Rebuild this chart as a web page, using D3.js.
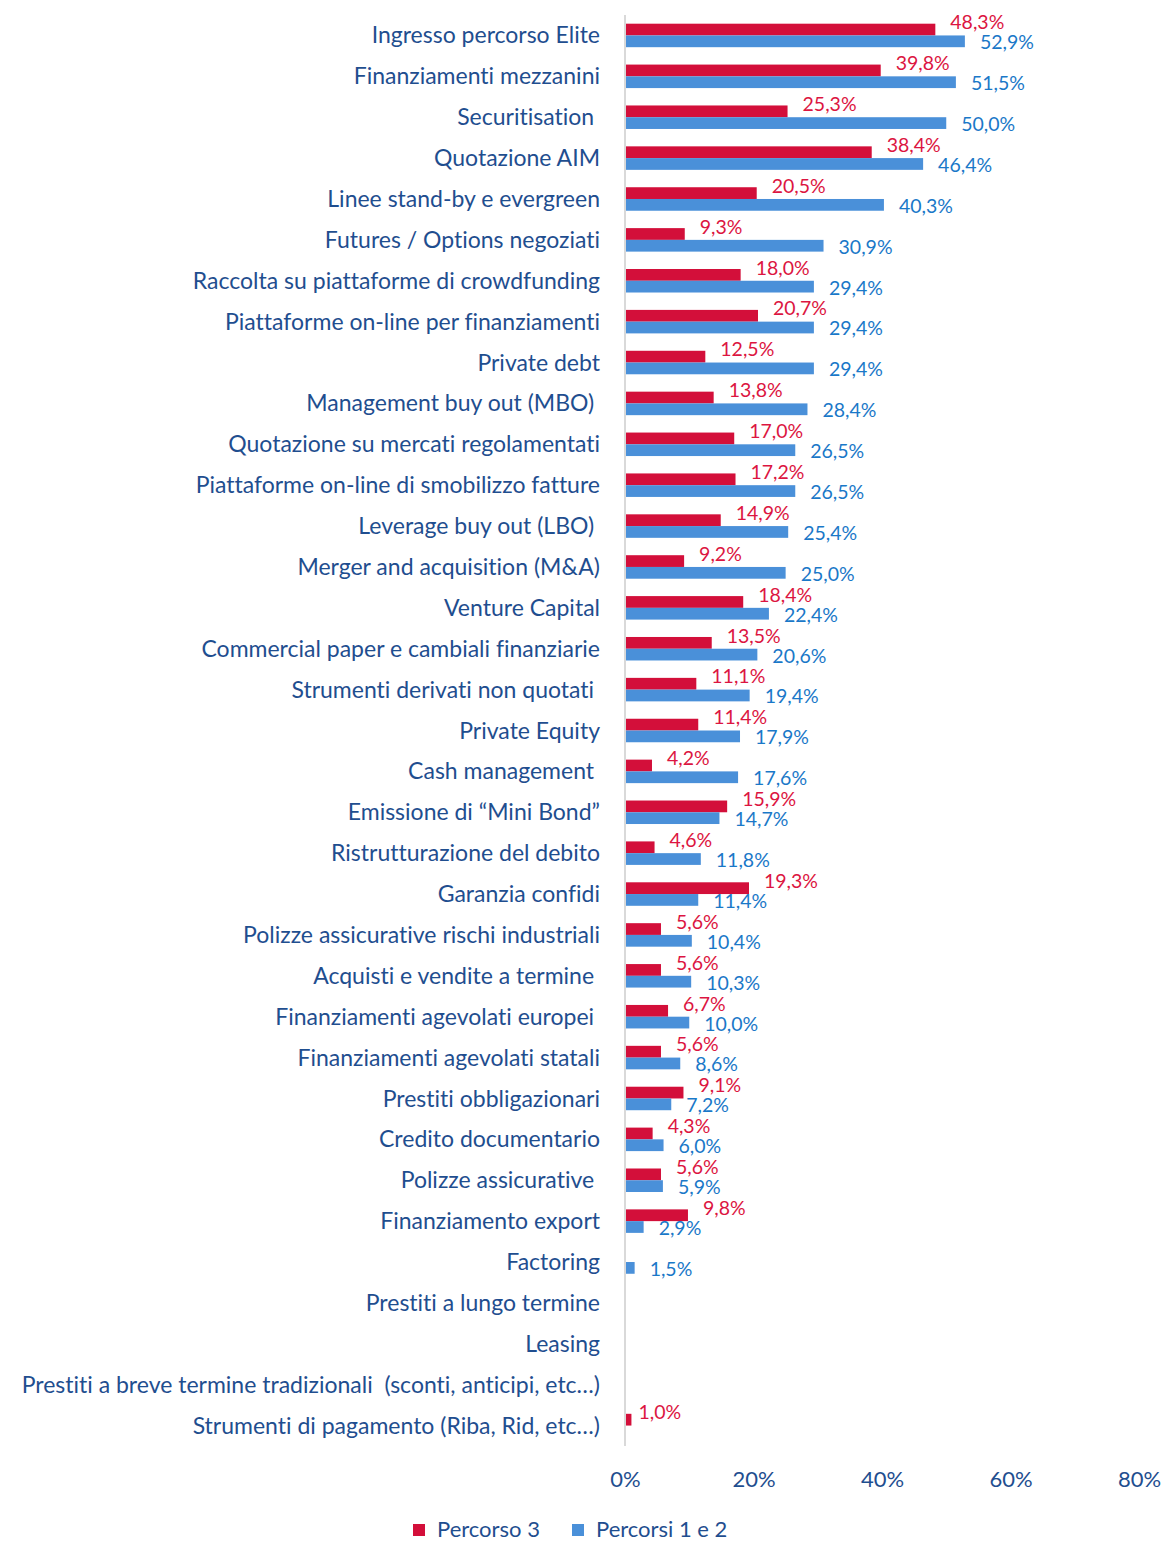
<!DOCTYPE html>
<html>
<head>
<meta charset="utf-8">
<script src="https://cdn.jsdelivr.net/npm/d3@7/dist/d3.min.js"></script>
<style>
  html, body { margin: 0; padding: 0; background: #fff; }
  svg text { font-family: Lato, "Open Sans", sans-serif; font-variant-ligatures: none; }
</style>
</head>
<body>
<script>
// Categories, top to bottom (trailing spaces kept as in the source labels)
const categories = [
  "Ingresso percorso Elite",
  "Finanziamenti mezzanini",
  "Securitisation ",
  "Quotazione AIM",
  "Linee stand-by e evergreen",
  "Futures / Options negoziati",
  "Raccolta su piattaforme di crowdfunding",
  "Piattaforme on-line per finanziamenti",
  "Private debt",
  "Management buy out (MBO) ",
  "Quotazione su mercati regolamentati",
  "Piattaforme on-line di smobilizzo fatture",
  "Leverage buy out (LBO) ",
  "Merger and acquisition (M&A)",
  "Venture Capital",
  "Commercial paper e cambiali finanziarie",
  "Strumenti derivati non quotati ",
  "Private Equity",
  "Cash management ",
  "Emissione di \u201cMini Bond\u201d",
  "Ristrutturazione del debito",
  "Garanzia confidi",
  "Polizze assicurative rischi industriali",
  "Acquisti e vendite a termine ",
  "Finanziamenti agevolati europei ",
  "Finanziamenti agevolati statali",
  "Prestiti obbligazionari",
  "Credito documentario",
  "Polizze assicurative ",
  "Finanziamento export",
  "Factoring",
  "Prestiti a lungo termine",
  "Leasing",
  "Prestiti a breve termine tradizionali  (sconti, anticipi, etc\u2026)",
  "Strumenti di pagamento (Riba, Rid, etc\u2026)"
];

// Series values in percent (null = no value shown)
const percorso3 = [
  48.3, 39.8, 25.3, 38.4, 20.5, 9.3, 18.0, 20.7, 12.5, 13.8,
  17.0, 17.2, 14.9, 9.2, 18.4, 13.5, 11.1, 11.4, 4.2, 15.9,
  4.6, 19.3, 5.6, 5.6, 6.7, 5.6, 9.1, 4.3, 5.6, 9.8,
  null, null, null, null, 1.0
];
const percorsi12 = [
  52.9, 51.5, 50.0, 46.4, 40.3, 30.9, 29.4, 29.4, 29.4, 28.4,
  26.5, 26.5, 25.4, 25.0, 22.4, 20.6, 19.4, 17.9, 17.6, 14.7,
  11.8, 11.4, 10.4, 10.3, 10.0, 8.6, 7.2, 6.0, 5.9, 2.9,
  1.5, null, null, null, null
];

const seriesNames = ["Percorso 3", "Percorsi 1 e 2"];
const tickValues = [0, 20, 40, 60, 80];

const W = 1163, H = 1542;
const colors = { bar: ["#D30F3A", "#4A90D9"], label: ["#DC1541", "#1A78C8"] };
const textBlue = "#1F4E8F";

const svg = d3.select("body").append("svg")
  .attr("width", W).attr("height", H);

const x = d3.scaleLinear().domain([0, 80]).range([625, 1139]);
const y = d3.scaleBand().domain(d3.range(categories.length))
  .range([15, 1446]).paddingInner(0).paddingOuter(0);
const inner = d3.scaleBand().domain([0, 1])
  .range([0, y.bandwidth()]).paddingInner(0).paddingOuter(0.74);

const fmt = v => d3.format(".1f")(v).replace(".", ",") + "%";

// Category labels
svg.append("g").selectAll("text").data(categories).join("text")
  .attr("x", 600)
  .attr("y", (d, i) => y(i) + y.bandwidth() / 2)
  .attr("dy", "0.35em")
  .attr("text-anchor", "end")
  .attr("fill", textBlue)
  .attr("font-size", 23)
  .style("white-space", "pre")
  .text(d => d);

// Bars and value labels
const series = [percorso3, percorsi12];
series.forEach((vals, s) => {
  const g = svg.append("g");
  const rows = vals.map((v, i) => ({ v, i })).filter(d => d.v != null);
  g.selectAll("rect").data(rows).join("rect")
    .attr("x", x(0))
    .attr("y", d => y(d.i) + inner(s))
    .attr("width", d => x(d.v) - x(0))
    .attr("height", inner.bandwidth())
    .attr("fill", colors.bar[s]);
  g.selectAll("text").data(rows).join("text")
    .attr("x", d => x(d.v) + (d.v < 1.2 ? 7 : 15))
    .attr("y", d => y(d.i) + y.bandwidth() / 2 + (s === 0 ? -13 : 7))
    .attr("dy", "0.35em")
    .attr("fill", colors.label[s])
    .attr("font-size", 19.5)
    .text(d => fmt(d.v));
});

// Vertical axis line
svg.append("line")
  .attr("x1", x(0)).attr("x2", x(0))
  .attr("y1", 15).attr("y2", 1446)
  .attr("stroke", "#D9D9D9").attr("stroke-width", 2);

// X axis tick labels
const xAxis = d3.axisBottom(x).tickValues(tickValues)
  .tickFormat(d => d + "%").tickSize(0).tickPadding(0);
const ax = svg.append("g").attr("transform", "translate(0,1471)").call(xAxis);
ax.select(".domain").remove();
ax.selectAll("text")
  .attr("fill", textBlue)
  .attr("font-size", 22)
  .attr("font-family", "Lato, 'Open Sans', sans-serif");

// Legend
const legend = svg.append("g").attr("transform", "translate(0,1529)");
const legendX = [413, 572];
seriesNames.forEach((name, s) => {
  legend.append("rect")
    .attr("x", legendX[s]).attr("y", -5)
    .attr("width", 12).attr("height", 12)
    .attr("fill", colors.bar[s]);
  legend.append("text")
    .attr("x", legendX[s] + 24).attr("y", 0)
    .attr("dy", "0.35em")
    .attr("fill", textBlue)
    .attr("font-size", 22)
    .text(name);
});
</script>
</body>
</html>
